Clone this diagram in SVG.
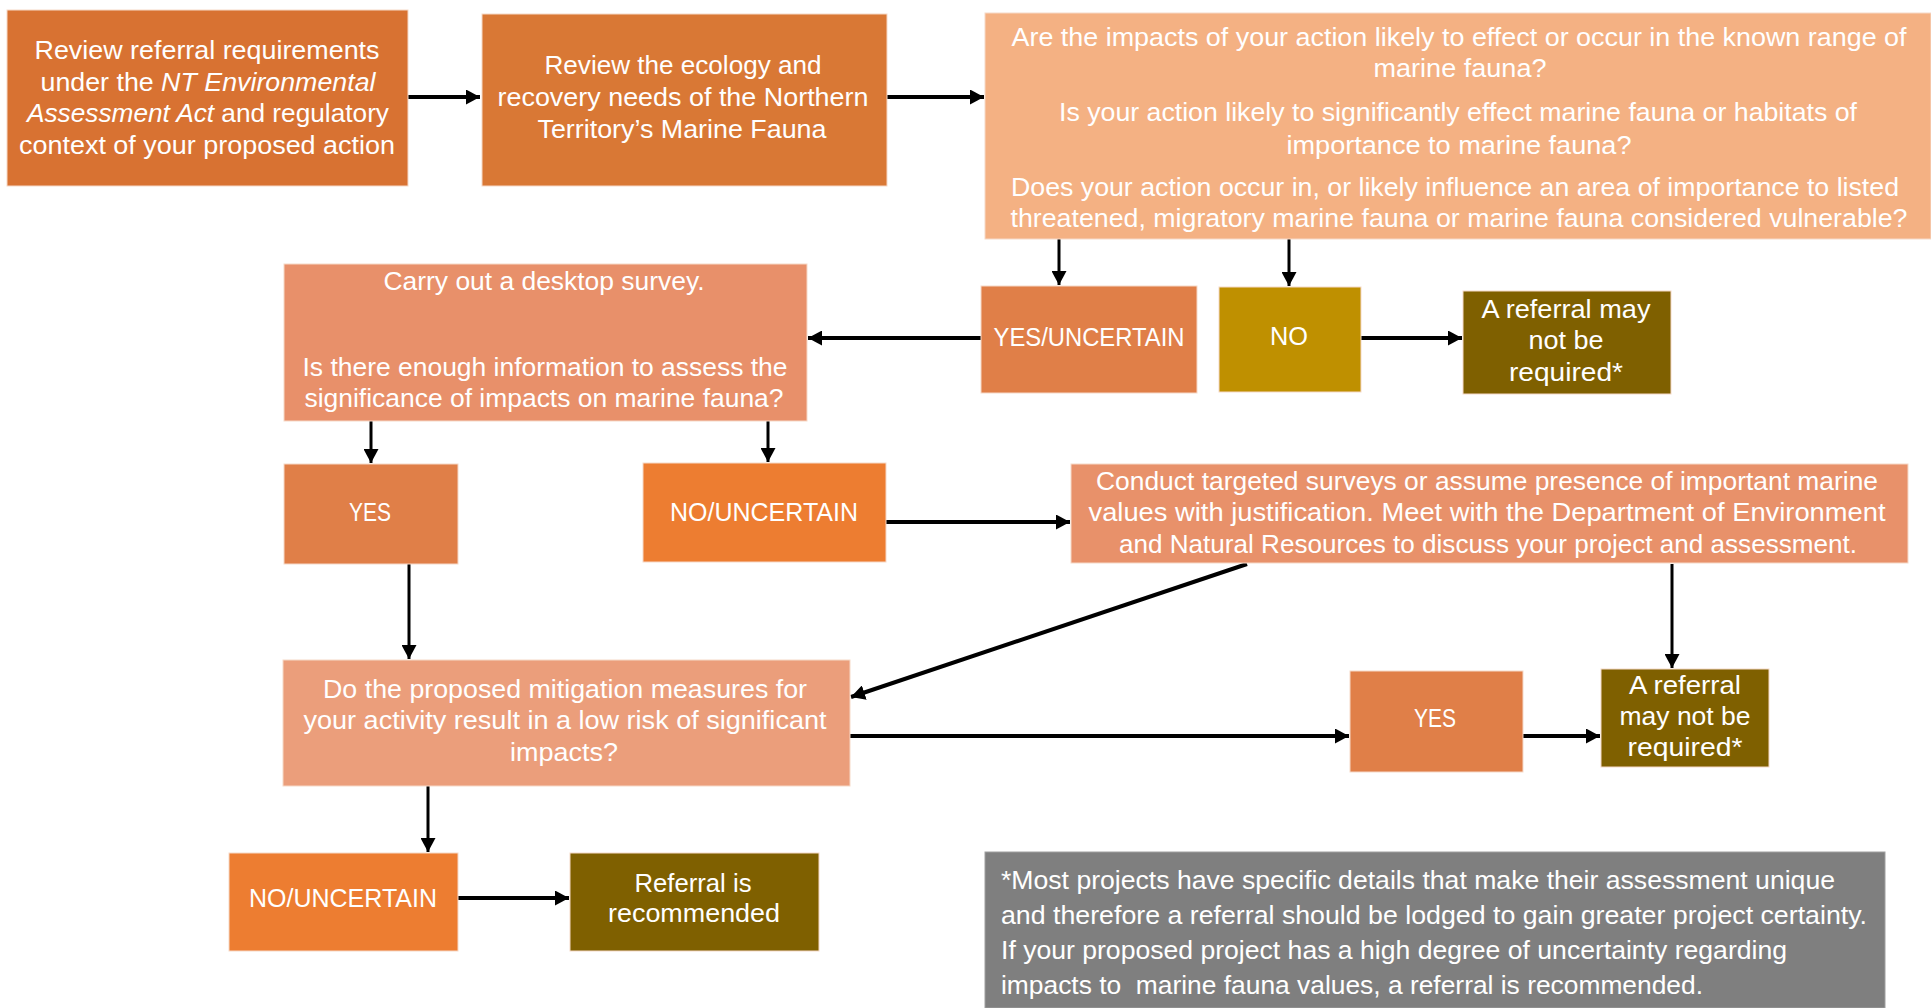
<svg xmlns="http://www.w3.org/2000/svg" width="1931" height="1008" viewBox="0 0 1931 1008">
<defs>
<style>
.t{font-family:"Liberation Sans",Arial,sans-serif;font-size:25px;fill:#ffffff;text-anchor:middle}
.l{text-anchor:start}
.box{stroke:#f6d9c8;stroke-width:1}
.c{fill:none;stroke:#000000;stroke-width:3}
.cw{fill:none;stroke:#000000;stroke-width:4}
</style>
<marker id="ah" markerUnits="userSpaceOnUse" markerWidth="15" markerHeight="15" refX="14" refY="7.5" orient="auto" viewBox="0 0 15 15">
<path d="M0,0 L14,7.5 L0,15 z" fill="#000000"/>
</marker>
</defs>
<rect width="1931" height="1008" fill="#ffffff"/>

<g id="connectors">
<path class="cw" d="M408,97 H480" marker-end="url(#ah)"/>
<path class="cw" d="M887,97 H984" marker-end="url(#ah)"/>
<path class="c" d="M1059,239 V285" marker-end="url(#ah)"/>
<path class="c" d="M1289,239 V286" marker-end="url(#ah)"/>
<path class="cw" d="M981,338 H808" marker-end="url(#ah)"/>
<path class="cw" d="M1361,338 H1462" marker-end="url(#ah)"/>
<path class="c" d="M371,421 V463" marker-end="url(#ah)"/>
<path class="c" d="M768,421 V462" marker-end="url(#ah)"/>
<path class="cw" d="M886,522 H1070" marker-end="url(#ah)"/>
<path class="cw" d="M1247,564 L851,697" marker-end="url(#ah)"/>
<path class="c" d="M1672,564 V668" marker-end="url(#ah)"/>
<path class="c" d="M409,564 V659" marker-end="url(#ah)"/>
<path class="cw" d="M850,736 H1349" marker-end="url(#ah)"/>
<path class="cw" d="M1523,736 H1600" marker-end="url(#ah)"/>
<path class="c" d="M428,786 V852" marker-end="url(#ah)"/>
<path class="cw" d="M458,898 H569" marker-end="url(#ah)"/>
</g>

<g id="review-requirements">
<rect class="box" x="7" y="10" width="401" height="176" fill="#D87232"/>
<text class="t" x="207" y="59" textLength="345" lengthAdjust="spacingAndGlyphs">Review referral requirements</text>
<text class="t" x="208" y="91" textLength="335" lengthAdjust="spacingAndGlyphs">under the <tspan font-style="italic">NT Environmental</tspan></text>
<text class="t" x="208" y="122" textLength="362" lengthAdjust="spacingAndGlyphs"><tspan font-style="italic">Assessment Act</tspan> and regulatory</text>
<text class="t" x="207" y="154" textLength="376" lengthAdjust="spacingAndGlyphs">context of your proposed action</text>
</g>

<g id="review-ecology">
<rect class="box" x="482" y="14" width="405" height="172" fill="#D97835"/>
<text class="t" x="683" y="74" textLength="277" lengthAdjust="spacingAndGlyphs">Review the ecology and</text>
<text class="t" x="683" y="106" textLength="371" lengthAdjust="spacingAndGlyphs">recovery needs of the Northern</text>
<text class="t" x="682" y="138" textLength="289" lengthAdjust="spacingAndGlyphs">Territory’s Marine Fauna</text>
</g>

<g id="impact-questions">
<rect class="box" x="985" y="13" width="946" height="226" fill="#F4B183"/>
<text class="t" x="1459" y="46" textLength="895" lengthAdjust="spacingAndGlyphs">Are the impacts of your action likely to effect or occur in the known range of</text>
<text class="t" x="1460" y="77" textLength="173" lengthAdjust="spacingAndGlyphs">marine fauna?</text>
<text class="t" x="1458" y="121" textLength="798" lengthAdjust="spacingAndGlyphs">Is your action likely to significantly effect marine fauna or habitats of</text>
<text class="t" x="1459" y="154" textLength="345" lengthAdjust="spacingAndGlyphs">importance to marine fauna?</text>
<text class="t" x="1455" y="196" textLength="888" lengthAdjust="spacingAndGlyphs">Does your action occur in, or likely influence an area of importance to listed</text>
<text class="t" x="1459" y="227" textLength="897" lengthAdjust="spacingAndGlyphs">threatened, migratory marine fauna or marine fauna considered vulnerable?</text>
</g>

<g id="desktop-survey">
<rect class="box" x="284" y="264" width="523" height="157" fill="#E8906A"/>
<text class="t" x="544" y="290" textLength="321" lengthAdjust="spacingAndGlyphs">Carry out a desktop survey.</text>
<text class="t" x="545" y="376" textLength="485" lengthAdjust="spacingAndGlyphs">Is there enough information to assess the</text>
<text class="t" x="544" y="407" textLength="479" lengthAdjust="spacingAndGlyphs">significance of impacts on marine fauna?</text>
</g>

<g id="yes-uncertain">
<rect class="box" x="981" y="286" width="216" height="107" fill="#E07F48"/>
<text class="t" x="1089" y="346" textLength="191" lengthAdjust="spacingAndGlyphs">YES/UNCERTAIN</text>
</g>

<g id="no">
<rect class="box" x="1219" y="287" width="142" height="105" fill="#BF9000"/>
<text class="t" x="1289" y="345" textLength="38" lengthAdjust="spacingAndGlyphs">NO</text>
</g>

<g id="referral-not-required-1">
<rect class="box" x="1463" y="291" width="208" height="103" fill="#7F6000"/>
<text class="t" x="1566" y="318" textLength="169" lengthAdjust="spacingAndGlyphs">A referral may</text>
<text class="t" x="1566" y="349" textLength="75" lengthAdjust="spacingAndGlyphs">not be</text>
<text class="t" x="1566" y="381" textLength="114" lengthAdjust="spacingAndGlyphs">required*</text>
</g>

<g id="yes-1">
<rect class="box" x="284" y="464" width="174" height="100" fill="#E07F48"/>
<text class="t" x="370" y="521" textLength="42" lengthAdjust="spacingAndGlyphs">YES</text>
</g>

<g id="no-uncertain-1">
<rect class="box" x="643" y="463" width="243" height="99" fill="#ED7D31"/>
<text class="t" x="764" y="521" textLength="188" lengthAdjust="spacingAndGlyphs">NO/UNCERTAIN</text>
</g>

<g id="targeted-surveys">
<rect class="box" x="1071" y="464" width="837" height="99" fill="#E8916A"/>
<text class="t" x="1487" y="490" textLength="782" lengthAdjust="spacingAndGlyphs">Conduct targeted surveys or assume presence of important marine</text>
<text class="t" x="1487" y="521" textLength="797" lengthAdjust="spacingAndGlyphs">values with justification. Meet with the Department of Environment</text>
<text class="t" x="1488" y="553" textLength="738" lengthAdjust="spacingAndGlyphs">and Natural Resources to discuss your project and assessment.</text>
</g>

<g id="mitigation">
<rect class="box" x="283" y="660" width="567" height="126" fill="#EB9E7B"/>
<text class="t" x="565" y="698" textLength="484" lengthAdjust="spacingAndGlyphs">Do the proposed mitigation measures for</text>
<text class="t" x="565" y="729" textLength="523" lengthAdjust="spacingAndGlyphs">your activity result in a low risk of significant</text>
<text class="t" x="564" y="761" textLength="108" lengthAdjust="spacingAndGlyphs">impacts?</text>
</g>

<g id="yes-2">
<rect class="box" x="1350" y="671" width="173" height="101" fill="#E07F48"/>
<text class="t" x="1435" y="727" textLength="42" lengthAdjust="spacingAndGlyphs">YES</text>
</g>

<g id="referral-not-required-2">
<rect class="box" x="1601" y="669" width="168" height="98" fill="#7F6000"/>
<text class="t" x="1685" y="694" textLength="112" lengthAdjust="spacingAndGlyphs">A referral</text>
<text class="t" x="1685" y="725" textLength="131" lengthAdjust="spacingAndGlyphs">may not be</text>
<text class="t" x="1685" y="756" textLength="115" lengthAdjust="spacingAndGlyphs">required*</text>
</g>

<g id="no-uncertain-2">
<rect class="box" x="229" y="853" width="229" height="98" fill="#ED7D31"/>
<text class="t" x="343" y="907" textLength="188" lengthAdjust="spacingAndGlyphs">NO/UNCERTAIN</text>
</g>

<g id="referral-recommended">
<rect class="box" x="570" y="853" width="249" height="98" fill="#7F6000"/>
<text class="t" x="693" y="892" textLength="117" lengthAdjust="spacingAndGlyphs">Referral is</text>
<text class="t" x="694" y="922" textLength="172" lengthAdjust="spacingAndGlyphs">recommended</text>
</g>

<g id="note">
<rect x="985" y="852" width="900" height="156" fill="#7F7F7F" stroke="#a0a0a0" stroke-width="1"/>
<text class="t l" x="1001" y="889" textLength="834" lengthAdjust="spacingAndGlyphs">*Most projects have specific details that make their assessment unique</text>
<text class="t l" x="1001" y="924" textLength="866" lengthAdjust="spacingAndGlyphs">and therefore a referral should be lodged to gain greater project certainty.</text>
<text class="t l" x="1001" y="959" textLength="786" lengthAdjust="spacingAndGlyphs">If your proposed project has a high degree of uncertainty regarding</text>
<text class="t l" x="1001" y="994" textLength="702" lengthAdjust="spacingAndGlyphs">impacts to&#160; marine fauna values, a referral is recommended.</text>
</g>
</svg>
